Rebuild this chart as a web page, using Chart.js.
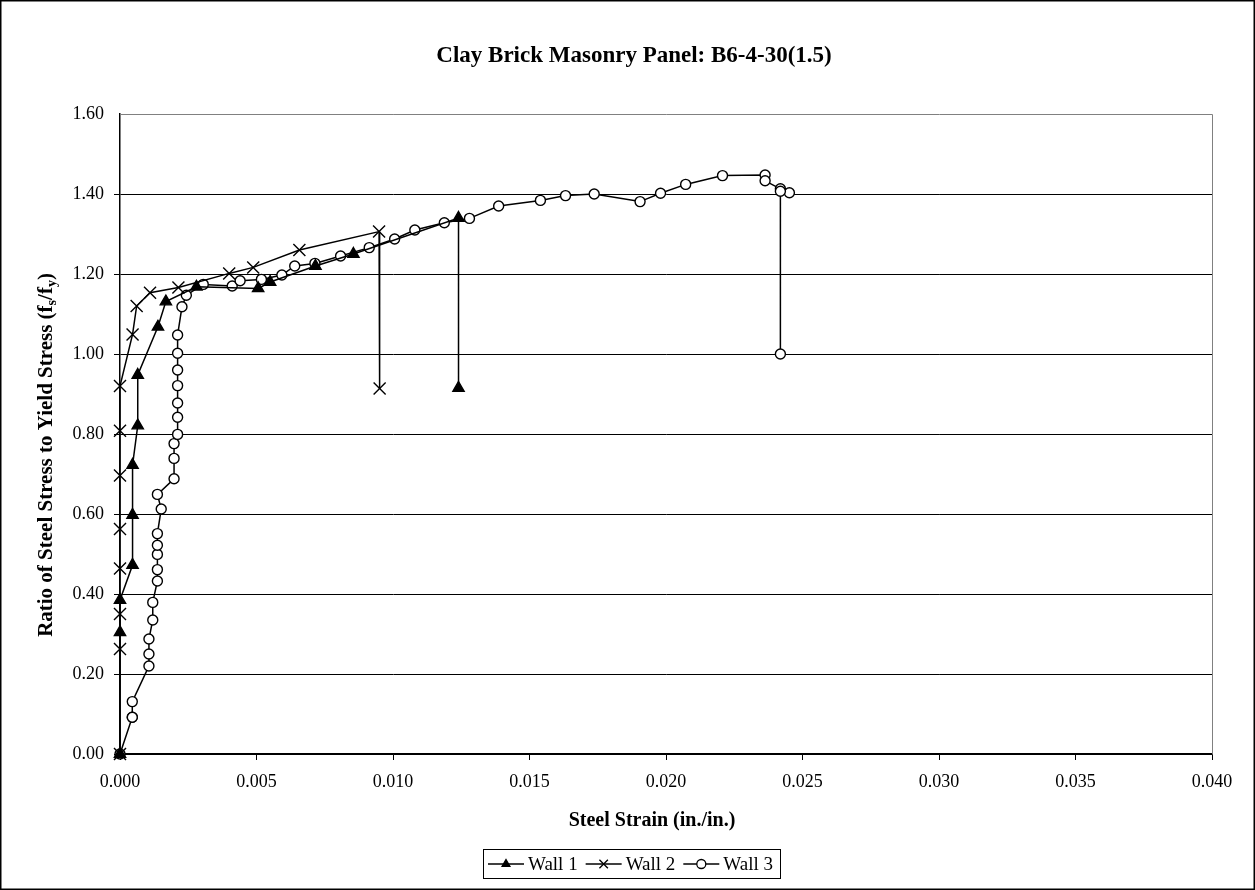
<!DOCTYPE html>
<html>
<head>
<meta charset="utf-8">
<script src="https://cdn.jsdelivr.net/npm/chart.js@4"></script>
<style>
  html, body { margin: 0; padding: 0; background: #fff; }
  #chart { display: block; }
</style>
</head>
<body>
<canvas id="chart" width="1255" height="890"></canvas>
<script>
// === DATA ===
const wall1Strain = [0, 0, 0, 0.00046, 0.00046, 0.00046, 0.00065, 0.00065, 0.00139, 0.00168,
  0.0028, 0.00506, 0.0055, 0.00716, 0.00855, 0.0124, 0.0124];
const wall1Ratio = [0, 0.304, 0.385, 0.4725, 0.5975, 0.7225, 0.821, 0.9475, 1.068, 1.131,
  1.168, 1.164, 1.18, 1.22, 1.25, 1.34, 0.915];

const wall2Strain = [0, 0, 0, 0, 0, 0, 0, 0, 0.00046, 0.00061,
  0.0011, 0.00214, 0.004, 0.00488, 0.00657, 0.00949, 0.00951];
const wall2Ratio = [0, 0.2625, 0.35, 0.464, 0.5625, 0.696, 0.808, 0.92, 1.049, 1.12,
  1.153, 1.1665, 1.2015, 1.2165, 1.26, 1.306, 0.914];

const wall3Strain = [0, 0.00045, 0.00045, 0.00045, 0.00106, 0.00106, 0.00106, 0.0012, 0.0012,
  0.00137, 0.00137, 0.00137, 0.00137, 0.00137, 0.00151, 0.00137, 0.00198, 0.00198, 0.00198,
  0.00211, 0.00211, 0.00211, 0.00211, 0.00211, 0.00211, 0.00211, 0.00227, 0.00243, 0.00305,
  0.00411, 0.0044, 0.00518, 0.00593, 0.0064, 0.00714, 0.00808, 0.00913, 0.01006, 0.0108,
  0.01188, 0.0128, 0.01387, 0.0154, 0.01632, 0.01737, 0.01905, 0.0198, 0.02072, 0.02207,
  0.02363, 0.02363, 0.02419, 0.02452, 0.02419, 0.02419];
const wall3Ratio = [0, 0.092, 0.092, 0.131, 0.22, 0.25, 0.2875, 0.335, 0.379,
  0.4325, 0.461, 0.499, 0.522, 0.551, 0.6125, 0.649, 0.688, 0.739, 0.776,
  0.799, 0.842, 0.8775, 0.921, 0.96, 1.002, 1.0475, 1.118, 1.147, 1.174,
  1.17, 1.183, 1.1865, 1.1975, 1.22, 1.2265, 1.245, 1.266, 1.2875, 1.31,
  1.328, 1.339, 1.37, 1.384, 1.396, 1.40, 1.381, 1.4017, 1.424, 1.446,
  1.4475, 1.433, 1.413, 1.403, 1.407, 1.00];

const xTickStep = 0.005;
const yTickStep = 0.2;
const chartTitle = 'Clay Brick Masonry Panel: B6-4-30(1.5)';
const xTitle = 'Steel Strain (in./in.)';
const seriesNames = ['Wall 1', 'Wall 2', 'Wall 3'];

const SERIF = '"Liberation Serif", "Times New Roman", serif';

function pts(xs, ys) {
  return xs.map((x, i) => ({ x: x, y: ys[i] }));
}

const markerStyles = [
  { pointStyle: 'triangle', pointRadius: 6.5, pointBackgroundColor: '#000' },
  { pointStyle: 'crossRot', pointRadius: 8.5, pointBackgroundColor: '#000' },
  { pointStyle: 'circle', pointRadius: 5, pointBackgroundColor: '#fff' }
];

function makeSet(i, xs, ys) {
  return Object.assign({
    label: seriesNames[i],
    data: pts(xs, ys),
    showLine: true,
    clip: false,
    borderColor: '#000',
    borderWidth: 1.5,
    pointBorderColor: '#000',
    pointBorderWidth: 1.4,
    pointHoverRadius: 5
  }, markerStyles[i]);
}

// === DECORATION: border, titles, legend ===
const decor = {
  id: 'decor',
  afterDraw(chart) {
    const ctx = chart.ctx;
    const area = chart.chartArea;
    ctx.save();

    // plot area border (top / right, grey like Excel)
    ctx.strokeStyle = '#808080';
    ctx.lineWidth = 1;
    ctx.beginPath();
    ctx.moveTo(area.left, area.top + 0.5);
    ctx.lineTo(area.right + 0.5, area.top + 0.5);
    ctx.lineTo(area.right + 0.5, area.bottom);
    ctx.stroke();

    // outer frame
    ctx.strokeStyle = '#000';
    ctx.lineWidth = 1.5;
    ctx.strokeRect(0.75, 0.75, chart.width - 1.5, chart.height - 1.5);

    ctx.fillStyle = '#000';
    ctx.textBaseline = 'middle';
    ctx.textAlign = 'center';

    // chart title
    ctx.font = 'bold 23px ' + SERIF;
    ctx.fillText(chartTitle, 634, 56);

    // x axis title
    ctx.font = 'bold 20px ' + SERIF;
    ctx.fillText(xTitle, 652, 821);

    // y axis title with subscripts
    const parts = [
      ['Ratio of Steel Stress to Yield Stress (f', false],
      ['s', true],
      ['/f', false],
      ['y', true],
      [')', false]
    ];
    const big = 'bold 21px ' + SERIF;
    const small = 'bold 14px ' + SERIF;
    let total = 0;
    parts.forEach(p => { ctx.font = p[1] ? small : big; total += ctx.measureText(p[0]).width; });
    ctx.translate(47, 455);
    ctx.rotate(-Math.PI / 2);
    ctx.textAlign = 'left';
    let cx = -total / 2;
    parts.forEach(p => {
      ctx.font = p[1] ? small : big;
      ctx.fillText(p[0], cx, p[1] ? 5 : 0);
      cx += ctx.measureText(p[0]).width;
    });
    ctx.setTransform(1, 0, 0, 1, 0, 0);

    // legend
    const box = { x: 483, y: 849, w: 297, h: 29 };
    ctx.strokeStyle = '#000';
    ctx.lineWidth = 1;
    ctx.strokeRect(box.x + 0.5, box.y + 0.5, box.w, box.h);
    const cy = box.y + box.h / 2 + 0.5;
    ctx.font = '19px ' + SERIF;
    ctx.textAlign = 'left';
    let lx = box.x + 5;
    seriesNames.forEach((name, i) => {
      ctx.strokeStyle = '#000';
      ctx.lineWidth = 1.5;
      ctx.beginPath();
      ctx.moveTo(lx, cy);
      ctx.lineTo(lx + 36, cy);
      ctx.stroke();
      const st = markerStyles[i];
      ctx.fillStyle = st.pointBackgroundColor;
      ctx.lineWidth = 1.3;
      Chart.helpers.drawPoint(ctx, { pointStyle: st.pointStyle, radius: i === 1 ? 6 : 4.5, borderWidth: 1.3, rotation: 0 }, lx + 18, cy);
      ctx.fillStyle = '#000';
      ctx.fillText(name, lx + 40, cy + 1);
      lx += 40 + ctx.measureText(name).width + 8;
    });

    ctx.restore();
  }
};

const ctx = document.getElementById('chart').getContext('2d');
new Chart(ctx, {
  type: 'scatter',
  data: {
    datasets: [
      makeSet(0, wall1Strain, wall1Ratio),
      makeSet(1, wall2Strain, wall2Ratio),
      makeSet(2, wall3Strain, wall3Ratio)
    ]
  },
  options: {
    responsive: false,
    animation: false,
    devicePixelRatio: 1,
    layout: { padding: { top: 114, right: 43, left: 0, bottom: 0 } },
    plugins: {
      legend: { display: false },
      title: { display: false },
      tooltip: { enabled: false }
    },
    scales: {
      x: {
        type: 'linear',
        min: 0,
        max: 0.04,
        ticks: {
          stepSize: xTickStep,
          callback: v => v.toFixed(3),
          color: '#000',
          font: { family: SERIF, size: 18 },
          padding: 11,
          maxRotation: 0
        },
        grid: { drawOnChartArea: false, color: '#000', tickLength: 6 },
        border: { color: '#000', width: 1.5 },
        afterFit: s => { s.height = 136; }
      },
      y: {
        min: 0,
        max: 1.6,
        ticks: {
          stepSize: yTickStep,
          callback: v => v.toFixed(2),
          color: '#000',
          font: { family: SERIF, size: 18 },
          padding: 10
        },
        grid: {
          color: c => (c.tick && c.tick.value >= 1.6 ? 'rgba(0,0,0,0)' : '#000'),
          lineWidth: 1,
          tickLength: 6
        },
        border: { color: '#000', width: 1.5 },
        afterFit: s => { s.width = 120; }
      }
    }
  },
  plugins: [decor]
});
</script>
</body>
</html>
